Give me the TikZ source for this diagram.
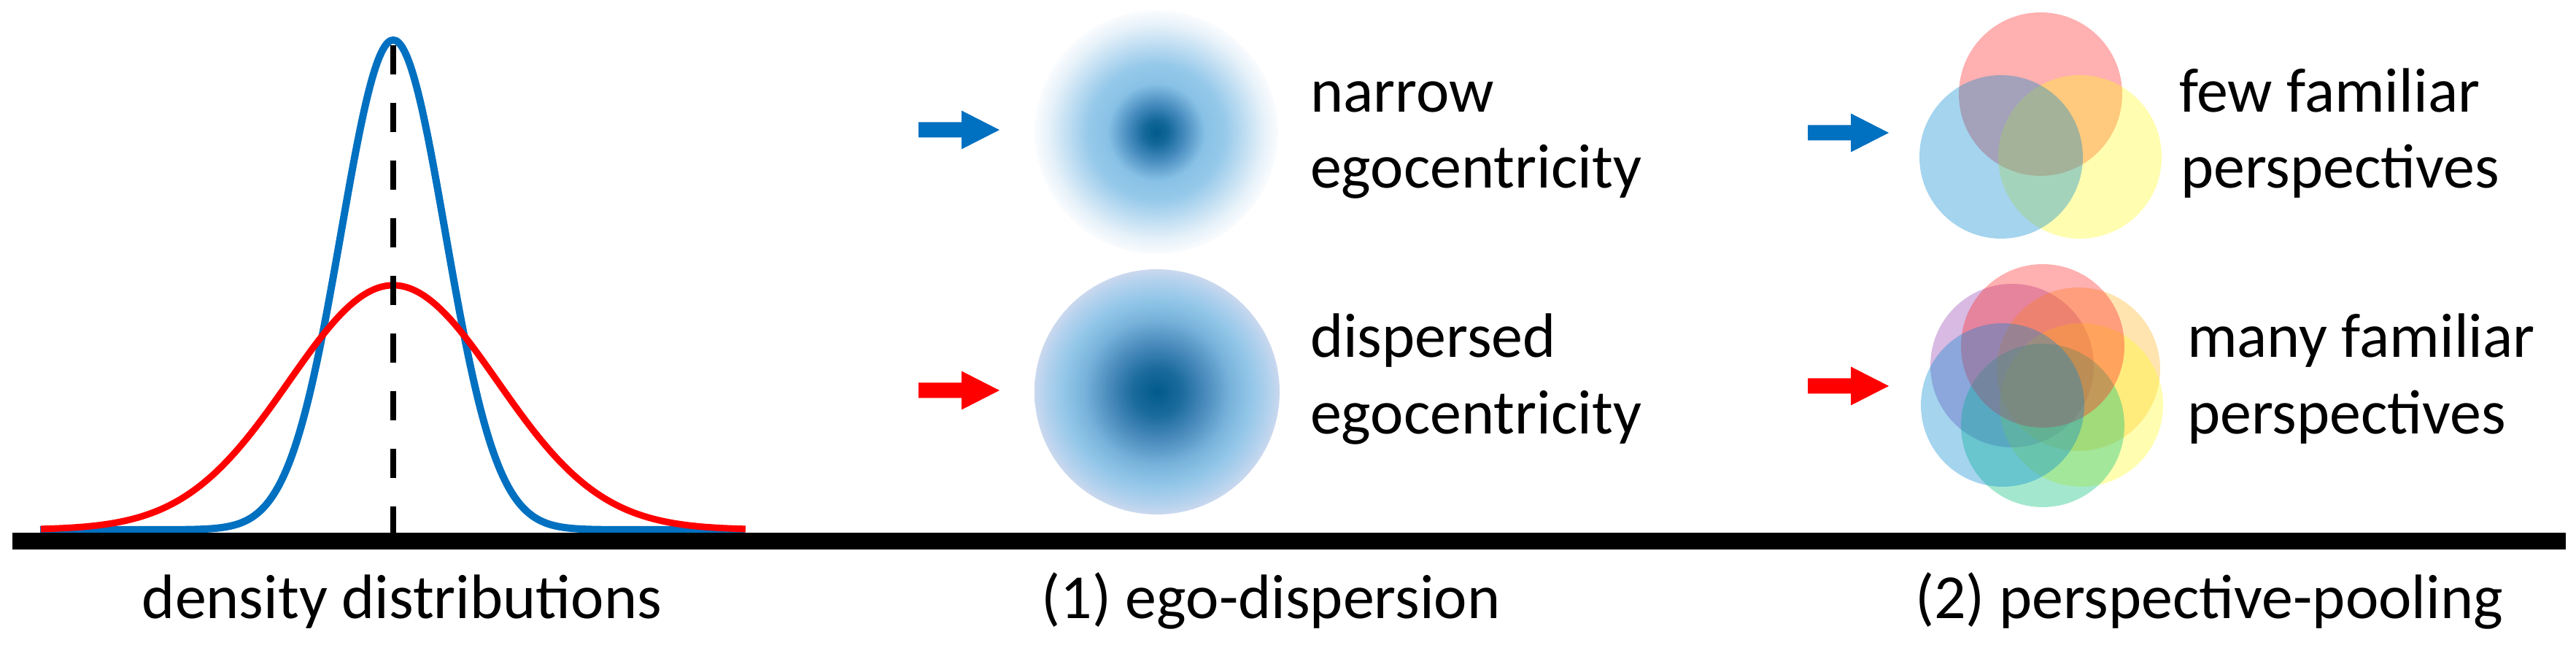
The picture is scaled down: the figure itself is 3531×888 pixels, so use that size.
\documentclass[tikz,border=0pt]{standalone}
\usepackage{fontspec}
\newfontfamily\lbfont{Carlito}
\definecolor{arblue}{HTML}{0070C0}
\definecolor{arred}{HTML}{FF0000}
\definecolor{egoD}{HTML}{005A8C}
\definecolor{egoDa}{HTML}{14689A}
\definecolor{egoM}{HTML}{4A8EC0}
\definecolor{egoL}{HTML}{88C1E6}
\definecolor{egoLb}{HTML}{96C9EA}
\definecolor{egoP}{HTML}{BEDDF2}
\definecolor{egoQ}{HTML}{E6F1F9}
\definecolor{egoW}{HTML}{FAFCFE}
\definecolor{dspA}{HTML}{1C6B9D}
\definecolor{dspB}{HTML}{4B8CBD}
\definecolor{dspC}{HTML}{78B3DB}
\definecolor{dspD}{HTML}{92C6E8}
\definecolor{dspE}{HTML}{B4D2EE}
\definecolor{dspF}{HTML}{CAD8EE}
\definecolor{vred}{HTML}{FF2424}
\definecolor{vblue}{HTML}{0388D0}
\definecolor{vyellow}{HTML}{FFFA24}
\definecolor{vpurple}{HTML}{9340AF}
\definecolor{vorange}{HTML}{FFB524}
\definecolor{vmint}{HTML}{00BF77}
\pgfdeclareradialshading{narrowblob}{\pgfpoint{0bp}{0bp}}{%
  color(0bp)=(egoD); color(2.5bp)=(egoDa); color(6bp)=(egoM);
  color(10bp)=(egoL); color(14bp)=(egoLb); color(18bp)=(egoP);
  color(22bp)=(egoQ); color(25bp)=(egoW); color(50bp)=(egoW)}
\pgfdeclareradialshading{dispblob}{\pgfpoint{0bp}{0bp}}{%
  color(0bp)=(egoD); color(5bp)=(dspA); color(10bp)=(dspB);
  color(15bp)=(dspC); color(19bp)=(dspD); color(23bp)=(dspE);
  color(25bp)=(dspF); color(50bp)=(dspF)}
\tikzset{
  lbl/.style={anchor=base west, inner sep=0pt, font=\lbfont\fontsize{17.2}{21}\selectfont},
  captxt/.style={anchor=base, inner sep=0pt, font=\lbfont\fontsize{17.2}{21}\selectfont},
  barrow/.pic={\fill (0,-10.5) -- (59,-10.5) -- (59,-26.5) -- (111,0) -- (59,26.5) -- (59,10.5) -- (0,10.5) -- cycle;},
  venn/.style={fill opacity=0.36},
}
\begin{document}
\begin{tikzpicture}[x=0.2pt, y=-0.2pt]
\useasboundingbox (0,0) rectangle (3531,888);
% density curves
\draw[arblue, line width=2pt] (55,726) -- plot[domain=-300:300, samples=161, smooth] ({539+\x}, {726-671*exp(-0.5*(\x/71.5)^2)}) -- (1021,726);
\draw[arred, line width=1.8pt] plot[domain=-483:483, samples=161, smooth] ({539+\x}, {726-335*exp(-0.5*(\x/143)^2)});
\draw[black, line width=1.6pt, dash pattern=on 8pt off 7.8pt] (539,62) -- (539,733);
% base line
\fill[black] (17,730) rectangle (3517,753);
% ego-dispersion
\pic[arblue] at (1259,178) {barrow};
\pic[arred] at (1259,535) {barrow};
\shade[shading=narrowblob] (1585,181) circle (167);
\shade[shading=dispblob] (1586,537) circle (168);
\node[lbl] (n1) at (1795,154) {narrow};
\node[lbl] (n2) at (1795,258) {egocentricity};
\node[lbl] (d1) at (1795,490) {dispersed};
\node[lbl] (d2) at (1795,595) {egocentricity};
% perspective-pooling
\pic[arblue] at (2478,182) {barrow};
\pic[arred] at (2478,529) {barrow};
\begin{scope}[venn]
\fill[vred] (2797,129) circle (112);
\fill[vyellow] (2851,215) circle (112);
\fill[vblue] (2743,215) circle (112);
\end{scope}
\begin{scope}[venn]
\fill[vpurple] (2758,501) circle (112);
\fill[vorange] (2849,506) circle (112);
\fill[vyellow] (2853,555) circle (112);
\fill[vmint] (2800,583) circle (112);
\fill[vred] (2800,474) circle (112);
\fill[vblue] (2745,555) circle (112);
\end{scope}
\node[lbl] (f1) at (2986,154) {few familiar};
\node[lbl] (f2) at (2988,258) {perspectives};
\node[lbl] (m1) at (2997,490) {many familiar};
\node[lbl] (m2) at (2997,595) {perspectives};
% captions
\node[captxt] (c0) at (551,848) {density distributions};
\node[captxt] (c1) at (1742,848) {(1) ego-dispersion};
\node[captxt] (c2) at (3028,848) {(2) perspective-pooling};
\end{tikzpicture}
\end{document}
